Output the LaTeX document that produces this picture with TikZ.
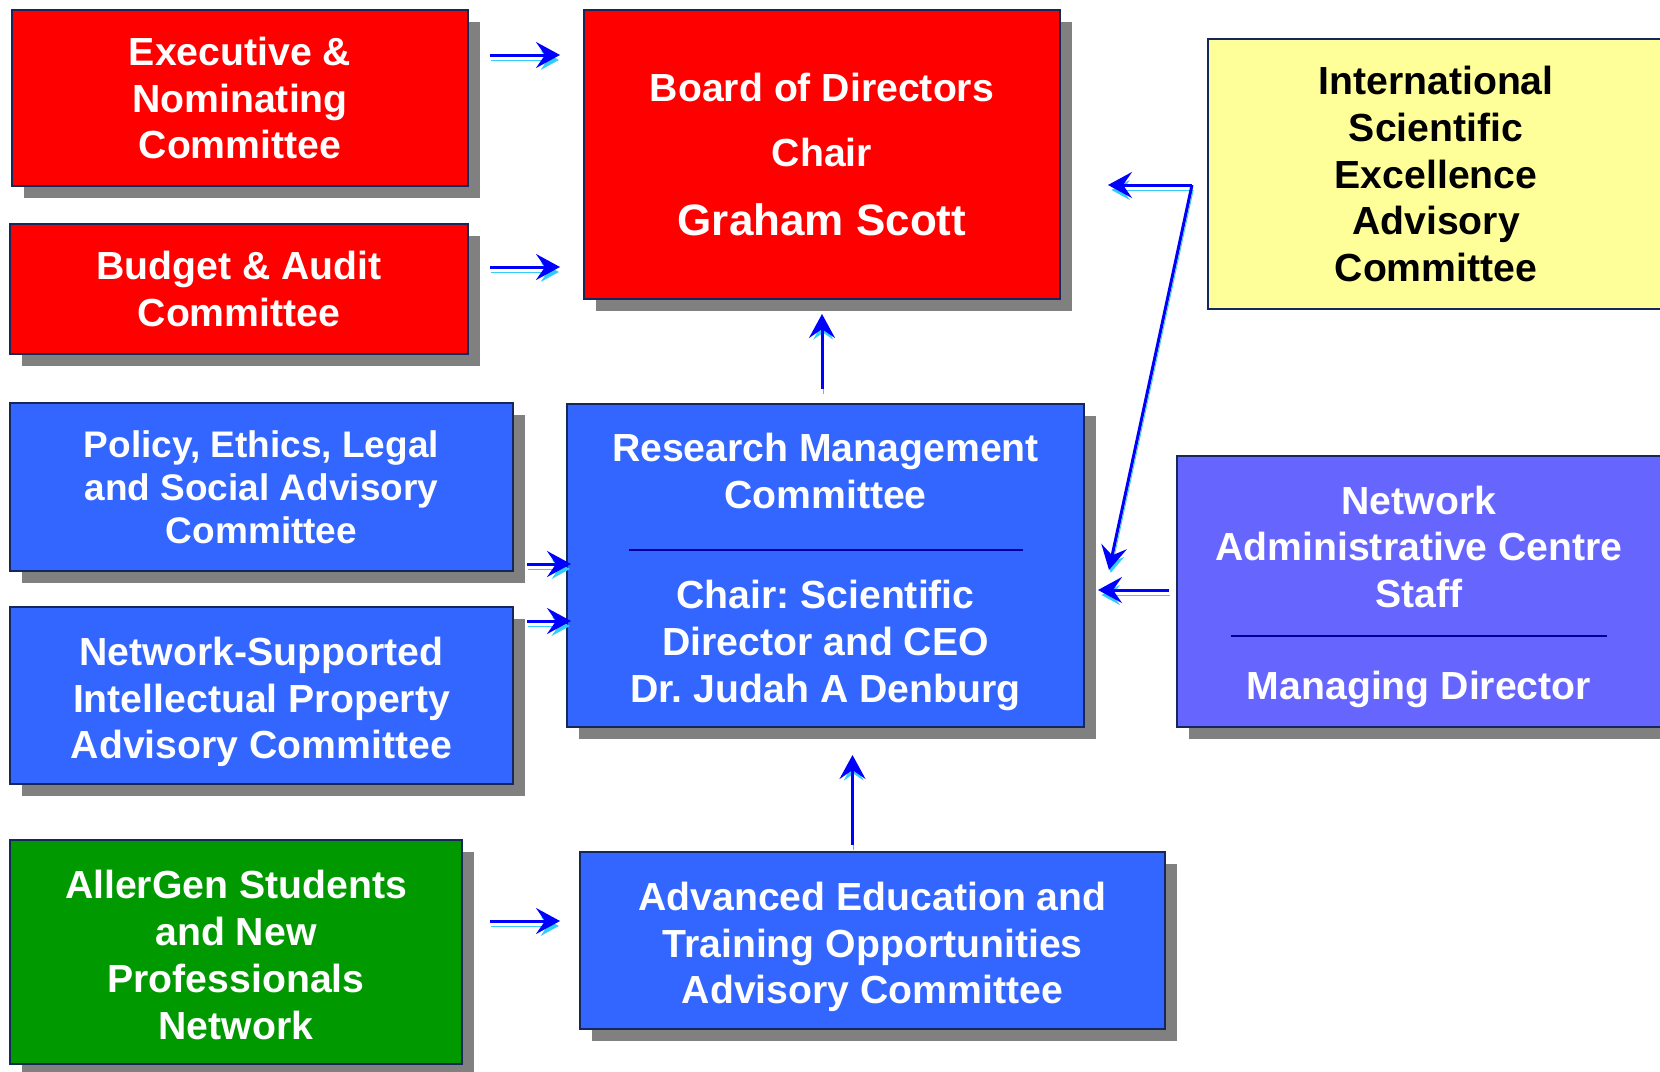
\documentclass[tikz,border=0pt]{standalone}
\usepackage{fontspec}
\setmainfont{Liberation Sans}
\usetikzlibrary{arrows.meta,shadows}

\definecolor{boxred}{HTML}{FF0000}
\definecolor{boxblue}{HTML}{3366FF}
\definecolor{boxviolet}{HTML}{6666FF}
\definecolor{boxgreen}{HTML}{009900}
\definecolor{boxyellow}{HTML}{FFFF99}
\definecolor{edge}{HTML}{14285A}
\definecolor{rulecol}{HTML}{000099}
\definecolor{shadowgray}{HTML}{808080}
\definecolor{arrdark}{HTML}{0000FF}
\definecolor{arrlight}{HTML}{33CCFF}

\newcommand{\boxfont}{\fontsize{19.6}{23.4}\selectfont\bfseries}
\newcommand{\topgap}[1]{\rule{0pt}{#1}}
\frenchspacing

\begin{document}
\begin{tikzpicture}[x=0.5pt,y=-0.5pt,
    box/.style={draw=edge, line width=1pt, fill=#1, text=white, align=center, inner sep=0pt, font=\boxfont},
    grayshadow/.style={drop shadow={shadow xshift=6pt, shadow yshift=-6pt, opacity=1, fill=shadowgray, draw=none}},
    arr/.style={draw=arrdark, line width=1.5pt, -{Stealth[length=12pt,width=13pt,inset=4.5pt]},
      preaction={draw=arrlight, transform canvas={xshift=.6pt,yshift=-2.5pt}}}]
    \useasboundingbox (0,0) rectangle (1660,1071);

    % board side
    \node[box=boxred, grayshadow, minimum width=228pt, minimum height=88pt] (exec) at (240,98) {Executive \&\\Nominating\\Committee};
    \node[box=boxred, grayshadow, minimum width=229pt, minimum height=65pt] (budget) at (239,289) {Budget \& Audit\\Committee};
    \node[box=boxred, grayshadow, minimum width=238pt, minimum height=144.5pt] (board) at (822,154.5)
      {Board of Directors\\[9.3pt]Chair\\[11.1pt]{\fontsize{22}{26}\selectfont Graham Scott}};
    \node[box=boxyellow, text=black, minimum width=228pt, minimum height=135pt] (iseac) at (1436,174)
      {International\\Scientific\\Excellence\\Advisory\\Committee};

    % research side
    \node[box=boxblue, grayshadow, minimum width=251.5pt, minimum height=84pt, font=\fontsize{18.5}{21.6}\selectfont\bfseries] (policy) at (261.5,487)
      {Policy, Ethics, Legal\\and Social Advisory\\Committee};
    \node[box=boxblue, grayshadow, minimum width=251.5pt, minimum height=88.5pt] (nsip) at (261.5,695.5)
      {\topgap{20.7pt}Network-Supported\\Intellectual Property\\Advisory Committee};
    \node[box=boxblue, grayshadow, minimum width=258.5pt, minimum height=161.5pt] (rmc) at (825.5,565.5)
      {\topgap{20.7pt}Research Management\\Committee\\[-2.3pt]\textcolor{rulecol}{\rule{197pt}{0.8pt}}\\[5.6pt]Chair: Scientific\\Director and CEO\\Dr. Judah A Denburg};
    \node[box=boxviolet, grayshadow, minimum width=242pt, minimum height=135.5pt] (nacs) at (1419,591.5)
      {\topgap{19.6pt}Network\\Administrative Centre\\Staff\\[-8.9pt]\textcolor{rulecol}{\rule{188pt}{0.8pt}}\\[8.1pt]Managing Director};
    \node[box=boxgreen, grayshadow, minimum width=226pt, minimum height=112pt] (students) at (236,952)
      {\topgap{17.3pt}AllerGen Students\\and New\\Professionals\\Network};
    \node[box=boxblue, grayshadow, minimum width=292.5pt, minimum height=88.5pt] (aeto) at (872.5,940.5)
      {\topgap{20.7pt}Advanced Education and\\Training Opportunities\\Advisory Committee};

    % connectors
    \draw[arr, shorten >=11.5pt] ([shift={(21,46)}]exec.north east) coordinate (e1) -- (e1 -| board.west);
    \draw[arr, shorten >=11.5pt] ([shift={(21,-22)}]budget.east) coordinate (b1) -- (b1 -| board.west);
    \draw[arr, shorten <=7pt, shorten >=7pt] (rmc.north -| board.south) -- (board.south);
    \draw[arr, shorten >=-2.5pt] ([shift={(13,-8)}]policy.south east) coordinate (p1) -- (p1 -| rmc.west);
    \draw[arr, shorten >=-2.5pt] ([shift={(13,15)}]nsip.north east) coordinate (n1) -- (n1 -| rmc.west);
    \draw[arr, shorten >=6.5pt] ([shift={(-7,-1.5)}]nacs.west) coordinate (s1) -- (s1 -| rmc.east);
    \coordinate (ic) at ([shift={(-15,11)}]iseac.west);
    \draw[arr, shorten >=23.5pt] (ic) -- (ic -| board.east);
    \draw[arr] (ic) -- ([shift={(24,4.5)}]rmc.east);
    \draw[arr, shorten <=3pt, shorten >=13.5pt] ([xshift=-10pt]aeto.north) coordinate (t1) -- (t1 |- rmc.south);
    \draw[arr, shorten >=9.5pt] ([shift={(27,-31)}]students.east) coordinate (g1) -- (g1 -| aeto.west);
\end{tikzpicture}
\end{document}
